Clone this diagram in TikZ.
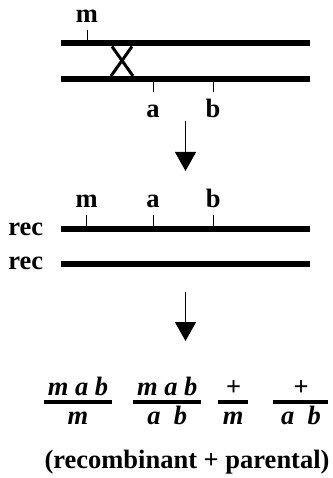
\documentclass[tikz,border=0pt]{standalone}
\usepackage{fontspec}
\setmainfont{Liberation Serif}
\usetikzlibrary{arrows.meta}

\begin{document}
\begin{tikzpicture}[x=1pt, y=-1pt,
    chrom/.style={line width=6pt},
    tick/.style={line width=0.8pt},
    fbar/.style={line width=3.4pt},
    lbl/.style={font=\fontsize{26.5}{30}\selectfont\bfseries, inner sep=0pt, anchor=base},
    geno/.style={lbl, font=\fontsize{26.5}{30}\selectfont\bfseries\itshape},
    down/.style={line width=1pt, -{Triangle[length=19pt, width=21pt]}}]
    \useasboundingbox (0,0) rectangle (332,478);

    % parental pair with the crossover
    \draw[chrom] (61,43.5) coordinate (p1L) -- (310,43.5) coordinate (p1R);
    \draw[chrom] (61,79) coordinate (p2L) -- (310,79) coordinate (p2R);
    \draw[line width=3pt] (112,46.5) -- (133,76) (132,46.5) -- (111,76);
    \draw[tick] (87,40.5) -- (87,30) coordinate (mTick);
    \draw[tick] (153,82) -- (153,92) coordinate (aTick);
    \draw[tick] (213,82) -- (213,92) coordinate (bTick);
    \node[lbl] (mTop) at (87,22.7) {m};
    \node[lbl] (aBot) at (153,118) {a};
    \node[lbl] (bBot) at (213,118) {b};

    \coordinate (arrA) at (185.5,121);
    \coordinate (arrB) at (185.5,171);
    \draw[down] (arrA) -- (arrB);

    % recombinant pair
    \draw[chrom] (61,229) coordinate (r1L) -- (310,229) coordinate (r1R);
    \draw[chrom] (61,264) coordinate (r2L) -- (310,264) coordinate (r2R);
    \foreach \x/\g in {86.7/m, 153/a, 213.3/b} {
        \draw[tick] (\x,226) -- (\x,215);
        \node[lbl] (rec\g) at (\x,207) {\g};
    }
    \node[lbl] (recA) at (25.8,235) {rec};
    \node[lbl] (recB) at (25.8,269) {rec};

    \coordinate (arrC) at (185.5,291.5);
    \coordinate (arrD) at (185.5,341);
    \draw[down] (arrC) -- (arrD);

    % gamete genotypes
    \draw[fbar] (44.3,402) -- (111.7,402);
    \node[geno] (numA) at (78,395) {m a b};
    \node[geno] (denA) at (78,424) {m};
    \draw[fbar] (133.3,402) -- (201,402);
    \node[geno] (numB) at (167.2,395) {m a b};
    \node[geno] (denB) at (167.2,424) {a\ \ b};
    \draw[fbar] (218.3,402) -- (248.3,402);
    \node[geno] (numC) at (233.3,395) {+};
    \node[geno] (denC) at (233.3,424) {m};
    \draw[fbar] (273.3,402) -- (328.3,402);
    \node[geno] (numD) at (301,395) {+};
    \node[geno] (denD) at (301,424) {a\ \ b};

    \node[lbl] (note) at (187,468.3) {(recombinant + parental)};
\end{tikzpicture}
\end{document}
